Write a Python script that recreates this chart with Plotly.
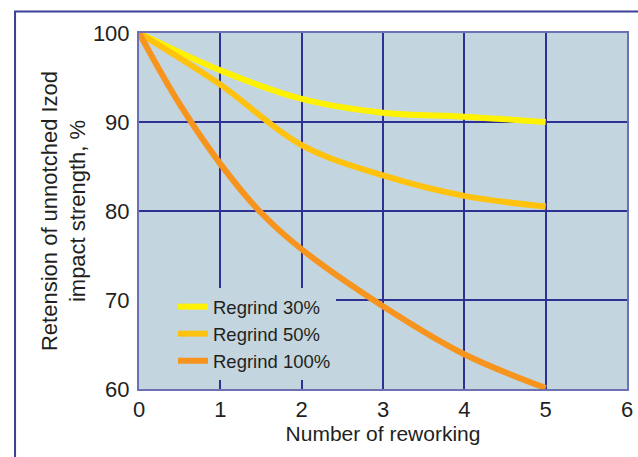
import plotly.graph_objects as go

reworking = [0, 1, 2, 3, 4, 5]
regrind_30 = [100, 95.8, 92.6, 91.05, 90.6, 90.0]
regrind_50 = [100, 94.2, 87.4, 84.0, 81.7, 80.5]
reworking_100 = [0, 0.5, 1, 1.5, 2, 3, 4, 5]
regrind_100 = [100, 92.0, 85.3, 79.8, 75.7, 69.3, 63.9, 60.1]

x_ticks = [0, 1, 2, 3, 4, 5, 6]
y_ticks = [60, 70, 80, 90, 100]

series = [
    ("Regrind 30%", reworking, regrind_30, "#fff200"),
    ("Regrind 50%", reworking, regrind_50, "#ffc20e"),
    ("Regrind 100%", reworking_100, regrind_100, "#f7941d"),
]

fig = go.Figure()
for name, xs, ys, color in series:
    fig.add_trace(go.Scatter(
        x=xs, y=ys, name=name, mode="lines",
        line=dict(color=color, width=6, shape="spline", smoothing=1.0),
    ))

font_family = "Liberation Sans, Arial, sans-serif"
text_color = "#231f20"
grid_color = "#2e3192"
frame_color = "#6d70b3"

fig.update_layout(
    width=638, height=457,
    margin=dict(l=139, r=11, t=33, b=68, autoexpand=False),
    paper_bgcolor="white",
    plot_bgcolor="#c3d5de",
    font=dict(family=font_family, color=text_color, size=22),
    showlegend=True,
    legend=dict(
        x=0, xanchor="left", y=0.025, yanchor="bottom",
        bgcolor="#c3d5de", borderwidth=0,
        font=dict(size=18.5, color=text_color),
        tracegroupgap=0, itemwidth=30, indentation=34,
    ),
    xaxis=dict(
        range=[0, 6], tickvals=x_ticks, ticktext=[str(v) for v in x_ticks],
        showgrid=True, gridcolor=grid_color, gridwidth=1.5,
        zeroline=False, showline=True, linecolor=frame_color, linewidth=2, mirror=True,
        ticks="", tickfont=dict(size=22), ticklabelstandoff=0,
        title=dict(text="Number of reworking", font=dict(size=21), standoff=0),
    ),
    yaxis=dict(
        range=[60, 100], tickvals=y_ticks, ticktext=[str(v) for v in y_ticks],
        showgrid=True, gridcolor=grid_color, gridwidth=1.5,
        zeroline=False, showline=True, linecolor=frame_color, linewidth=2, mirror=True,
        ticks="", tickfont=dict(size=22), ticklabelstandoff=3,
        title=dict(text="Retension of unnotched Izod<br>impact strength, %", font=dict(size=22), standoff=1),
    ),
)

# outer frame around the figure panel
fig.add_shape(type="rect", xref="paper", yref="paper",
              x0=-0.254, x1=1.2, y0=-0.4, y1=1.0604,
              line=dict(color="#3b3f98", width=2), fillcolor="rgba(0,0,0,0)", layer="above")

# cut-off caption at top
fig.add_annotation(text="Table 6.1.", xref="paper", yref="paper",
                   x=-0.248, y=1.075, xanchor="left", yanchor="bottom",
                   showarrow=False, font=dict(family="Liberation Serif, serif", size=22, color=text_color))

fig.write_html("out.html", config={"displayModeBar": False},
               post_script="document.body.style.margin='0';document.body.style.overflow='hidden';")
